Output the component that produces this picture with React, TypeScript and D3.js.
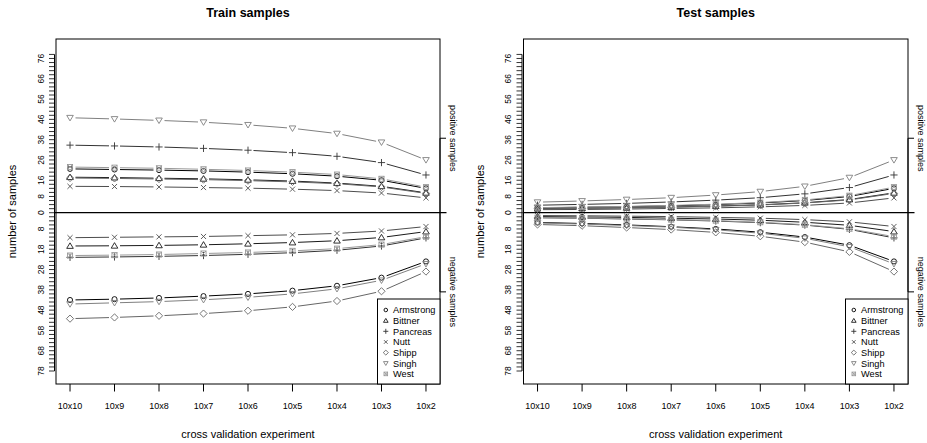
import React from "react";
import * as d3 from "d3";

const experiments = ["10x10", "10x9", "10x8", "10x7", "10x6", "10x5", "10x4", "10x3", "10x2"];
const datasets = ["Armstrong", "Bittner", "Pancreas", "Nutt", "Shipp", "Singh", "West"];
const seriesColors = ["#000000", "#1a1a1a", "#333333", "#4d4d4d", "#666666", "#808080", "#999999"];
const seriesSymbols = ["circle", "triUp", "plus", "cross", "diamond", "triDown", "squareX"];

// Train samples, positive class (one row per dataset)
const trainPositive = [
  [21.6, 21.3, 21.0, 20.6, 20.0, 19.2, 18.0, 16.0, 12.0],
  [17.5, 17.3, 17.0, 16.7, 16.2, 15.6, 14.6, 13.0, 9.8],
  [33.3, 32.9, 32.4, 31.7, 30.8, 29.6, 27.8, 24.7, 18.6],
  [13.0, 12.9, 12.7, 12.4, 12.1, 11.6, 10.9, 9.7, 7.3],
  [17.1, 16.9, 16.6, 16.3, 15.8, 15.2, 14.3, 12.7, 9.5],
  [46.8, 46.2, 45.5, 44.6, 43.3, 41.6, 39.0, 34.7, 26.0],
  [22.5, 22.2, 21.9, 21.4, 20.8, 20.0, 18.8, 16.7, 12.6],
];
// Train samples, negative class (plotted below zero)
const trainNegative = [
  [43.0, 42.6, 42.0, 41.1, 40.0, 38.4, 36.0, 32.0, 24.0],
  [16.4, 16.3, 16.1, 15.8, 15.3, 14.7, 13.8, 12.2, 9.3],
  [22.0, 21.8, 21.5, 21.1, 20.5, 19.7, 18.5, 16.4, 12.4],
  [12.3, 12.1, 11.9, 11.7, 11.3, 10.9, 10.2, 9.0, 6.8],
  [52.2, 51.6, 50.8, 49.7, 48.3, 46.4, 43.5, 38.7, 29.0],
  [45.0, 44.4, 43.8, 42.9, 41.7, 40.0, 37.5, 33.3, 25.2],
  [21.1, 20.9, 20.6, 20.1, 19.6, 18.8, 17.7, 15.7, 11.8],
];
// Test samples, positive class
const testPositive = [
  [2.4, 2.7, 3.0, 3.4, 4.0, 4.8, 6.0, 8.0, 12.0],
  [2.0, 2.2, 2.4, 2.8, 3.3, 3.9, 4.9, 6.5, 9.8],
  [3.7, 4.1, 4.6, 5.3, 6.2, 7.4, 9.3, 12.4, 18.6],
  [1.5, 1.6, 1.8, 2.1, 2.4, 2.9, 3.6, 4.8, 7.3],
  [1.9, 2.1, 2.4, 2.7, 3.2, 3.8, 4.8, 6.3, 9.5],
  [5.2, 5.8, 6.5, 7.4, 8.7, 10.4, 13.0, 17.3, 26.0],
  [2.5, 2.8, 3.1, 3.6, 4.2, 5.0, 6.3, 8.4, 12.6],
];
// Test samples, negative class
const testNegative = [
  [4.8, 5.3, 6.0, 6.9, 8.0, 9.6, 12.0, 16.0, 24.0],
  [1.9, 2.1, 2.3, 2.7, 3.1, 3.7, 4.7, 6.2, 9.3],
  [2.5, 2.7, 3.1, 3.5, 4.1, 4.9, 6.1, 8.2, 12.4],
  [1.4, 1.5, 1.7, 1.9, 2.3, 2.7, 3.4, 4.5, 6.8],
  [5.8, 6.4, 7.3, 8.3, 9.7, 11.6, 14.5, 19.3, 29.0],
  [5.0, 5.6, 6.3, 7.1, 8.4, 10.1, 12.6, 16.8, 25.2],
  [2.4, 2.6, 2.9, 3.4, 3.9, 4.7, 5.9, 7.9, 11.8],
];

const yLabelsPositive = [0, 8, 16, 26, 36, 46, 56, 66, 76];
const yLabelsNegative = [8, 18, 28, 38, 48, 58, 68, 78];
const sideLabels = [
  { text: "positive samples", value: 36.7 },
  { text: "negative samples", value: -39 },
];

const FONT = "'Liberation Sans', Arial, Helvetica, sans-serif";
const W = 927;
const H = 443;
const Y0 = 39;
const Y1 = 384;

function Symbol({ type, x, y, s, color }: { type: string; x: number; y: number; s: number; color: string }) {
  const common = { fill: "none", stroke: color, strokeWidth: 0.9 };
  switch (type) {
    case "circle":
      return <circle cx={x} cy={y} r={s * 0.85} {...common} />;
    case "triUp": {
      const h = s * 1.05;
      return <path d={`M${x},${y - h} L${x + h * 1.05},${y + h * 0.75} L${x - h * 1.05},${y + h * 0.75} Z`} {...common} />;
    }
    case "triDown": {
      const h = s * 1.05;
      return <path d={`M${x},${y + h} L${x + h * 1.05},${y - h * 0.75} L${x - h * 1.05},${y - h * 0.75} Z`} {...common} />;
    }
    case "plus":
      return <path d={`M${x - s * 1.2},${y} L${x + s * 1.2},${y} M${x},${y - s * 1.2} L${x},${y + s * 1.2}`} {...common} />;
    case "cross":
      return <path d={`M${x - s * 0.85},${y - s * 0.85} L${x + s * 0.85},${y + s * 0.85} M${x - s * 0.85},${y + s * 0.85} L${x + s * 0.85},${y - s * 0.85}`} {...common} />;
    case "diamond":
      return <path d={`M${x},${y - s * 1.2} L${x + s * 1.2},${y} L${x},${y + s * 1.2} L${x - s * 1.2},${y} Z`} {...common} />;
    case "squareX": {
      const a = s * 0.85;
      return (
        <g>
          <rect x={x - a} y={y - a} width={2 * a} height={2 * a} {...common} />
          <path d={`M${x - a},${y - a} L${x + a},${y + a} M${x - a},${y + a} L${x + a},${y - a}`} {...common} />
        </g>
      );
    }
    default:
      return null;
  }
}

function Panel({ x0, x1, title, pos, neg }: { x0: number; x1: number; title: string; pos: number[][]; neg: number[][] }) {
  const xScale = d3.scaleLinear().domain([-0.315, experiments.length - 1 + 0.315]).range([x0, x1]);
  const yScale = d3.scaleLinear().domain([-84.4, 85.6]).range([Y1, Y0]);
  const minorTicks = d3.range(-78, 79, 2);
  const gap = 5.5;

  const renderSeries = (values: number[], sign: number, si: number, key: string) => {
    const pts = values.map((v, i) => [xScale(i), yScale(sign * v)] as [number, number]);
    const segs: JSX.Element[] = [];
    for (let i = 0; i < pts.length - 1; i++) {
      const [ax, ay] = pts[i];
      const [bx, by] = pts[i + 1];
      const dx = bx - ax;
      const dy = by - ay;
      const len = Math.hypot(dx, dy);
      if (len <= 2 * gap) continue;
      const ux = dx / len;
      const uy = dy / len;
      segs.push(
        <line key={`${key}-s${i}`} x1={ax + ux * gap} y1={ay + uy * gap} x2={bx - ux * gap} y2={by - uy * gap} stroke={seriesColors[si]} strokeWidth={1} />
      );
    }
    return (
      <g key={key}>
        {segs}
        {pts.map(([px, py], i) => (
          <Symbol key={`${key}-p${i}`} type={seriesSymbols[si]} x={px} y={py} s={3} color={seriesColors[si]} />
        ))}
      </g>
    );
  };

  const cx = (x0 + x1) / 2;
  const legendLeft = x1 - 62.5;
  const legendTop = 299;

  return (
    <g>
      <text x={cx} y={17} textAnchor="middle" fontFamily={FONT} fontWeight="bold" fontSize={12.5} fill="#000">
        {title}
      </text>
      {/* plot box */}
      <rect x={x0} y={Y0} width={x1 - x0} height={Y1 - Y0} fill="none" stroke="#000" strokeWidth={1} />
      {/* left y axis comb */}
      <line x1={x0 - 1.5} x2={x0 - 1.5} y1={yScale(-78)} y2={yScale(78)} stroke="#000" strokeWidth={1} />
      {minorTicks.map((t) => (
        <line key={`mt${t}`} x1={x0 - 7} x2={x0 - 1.5} y1={yScale(t)} y2={yScale(t)} stroke="#000" strokeWidth={0.8} />
      ))}
      {yLabelsPositive.map((t) => (
        <text key={`yp${t}`} transform={`translate(${x0 - 12.5},${yScale(t)}) rotate(-90)`} textAnchor="middle" fontFamily={FONT} fontSize={8.5} fill="#000">
          {t}
        </text>
      ))}
      {yLabelsNegative.map((t) => (
        <text key={`yn${t}`} transform={`translate(${x0 - 12.5},${yScale(-t)}) rotate(-90)`} textAnchor="middle" fontFamily={FONT} fontSize={8.5} fill="#000">
          {t}
        </text>
      ))}
      <text transform={`translate(${x0 - 40},${(Y0 + Y1) / 2}) rotate(-90)`} textAnchor="middle" fontFamily={FONT} fontSize={11} fill="#000">
        number of samples
      </text>
      {/* right axis */}
      <line x1={x1} x2={x1} y1={yScale(sideLabels[0].value)} y2={yScale(sideLabels[1].value)} stroke="#000" strokeWidth={1} />
      {sideLabels.map((s) => (
        <g key={s.text}>
          <line x1={x1} x2={x1 + 6} y1={yScale(s.value)} y2={yScale(s.value)} stroke="#000" strokeWidth={1} />
          <text transform={`translate(${x1 + 10},${yScale(s.value)}) rotate(90)`} textAnchor="middle" fontFamily={FONT} fontSize={9} fill="#000">
            {s.text}
          </text>
        </g>
      ))}
      {/* zero line */}
      <line x1={x0 - 1} x2={x1 + 6.5} y1={yScale(0)} y2={yScale(0)} stroke="#000" strokeWidth={1.2} />
      {/* x axis */}
      {experiments.map((e, i) => (
        <g key={e}>
          <line x1={xScale(i)} x2={xScale(i)} y1={Y1} y2={Y1 + 7.5} stroke="#000" strokeWidth={1} />
          <text x={xScale(i)} y={409} textAnchor="middle" fontFamily={FONT} fontSize={9} fill="#000">
            {e}
          </text>
        </g>
      ))}
      <text x={cx} y={438} textAnchor="middle" fontFamily={FONT} fontSize={11} fill="#000">
        cross validation experiment
      </text>
      {/* series */}
      {datasets.map((d, si) => (
        <g key={d}>
          {renderSeries(pos[si], 1, si, `${d}-pos`)}
          {renderSeries(neg[si], -1, si, `${d}-neg`)}
        </g>
      ))}
      {/* legend */}
      <rect x={legendLeft} y={legendTop} width={x1 - legendLeft} height={Y1 - legendTop} fill="#fff" stroke="#000" strokeWidth={1} />
      {datasets.map((d, si) => {
        const ly = legendTop + 11 + si * 10.65;
        return (
          <g key={`lg-${d}`}>
            <Symbol type={seriesSymbols[si]} x={legendLeft + 8.3} y={ly} s={2.1} color={seriesColors[si]} />
            <text x={legendLeft + 15.6} y={ly + 3.3} fontFamily={FONT} fontSize={9.2} fill="#000">
              {d}
            </text>
          </g>
        );
      })}
    </g>
  );
}

export default function App() {
  return (
    <svg width={W} height={H} style={{ position: "absolute", left: 0, top: 0, background: "#fff" }}>
      <rect x={0} y={0} width={W} height={H} fill="#fff" />
      <Panel x0={56} x1={440} title="Train samples" pos={trainPositive} neg={trainNegative} />
      <Panel x0={523.5} x1={908} title="Test samples" pos={testPositive} neg={testNegative} />
    </svg>
  );
}
